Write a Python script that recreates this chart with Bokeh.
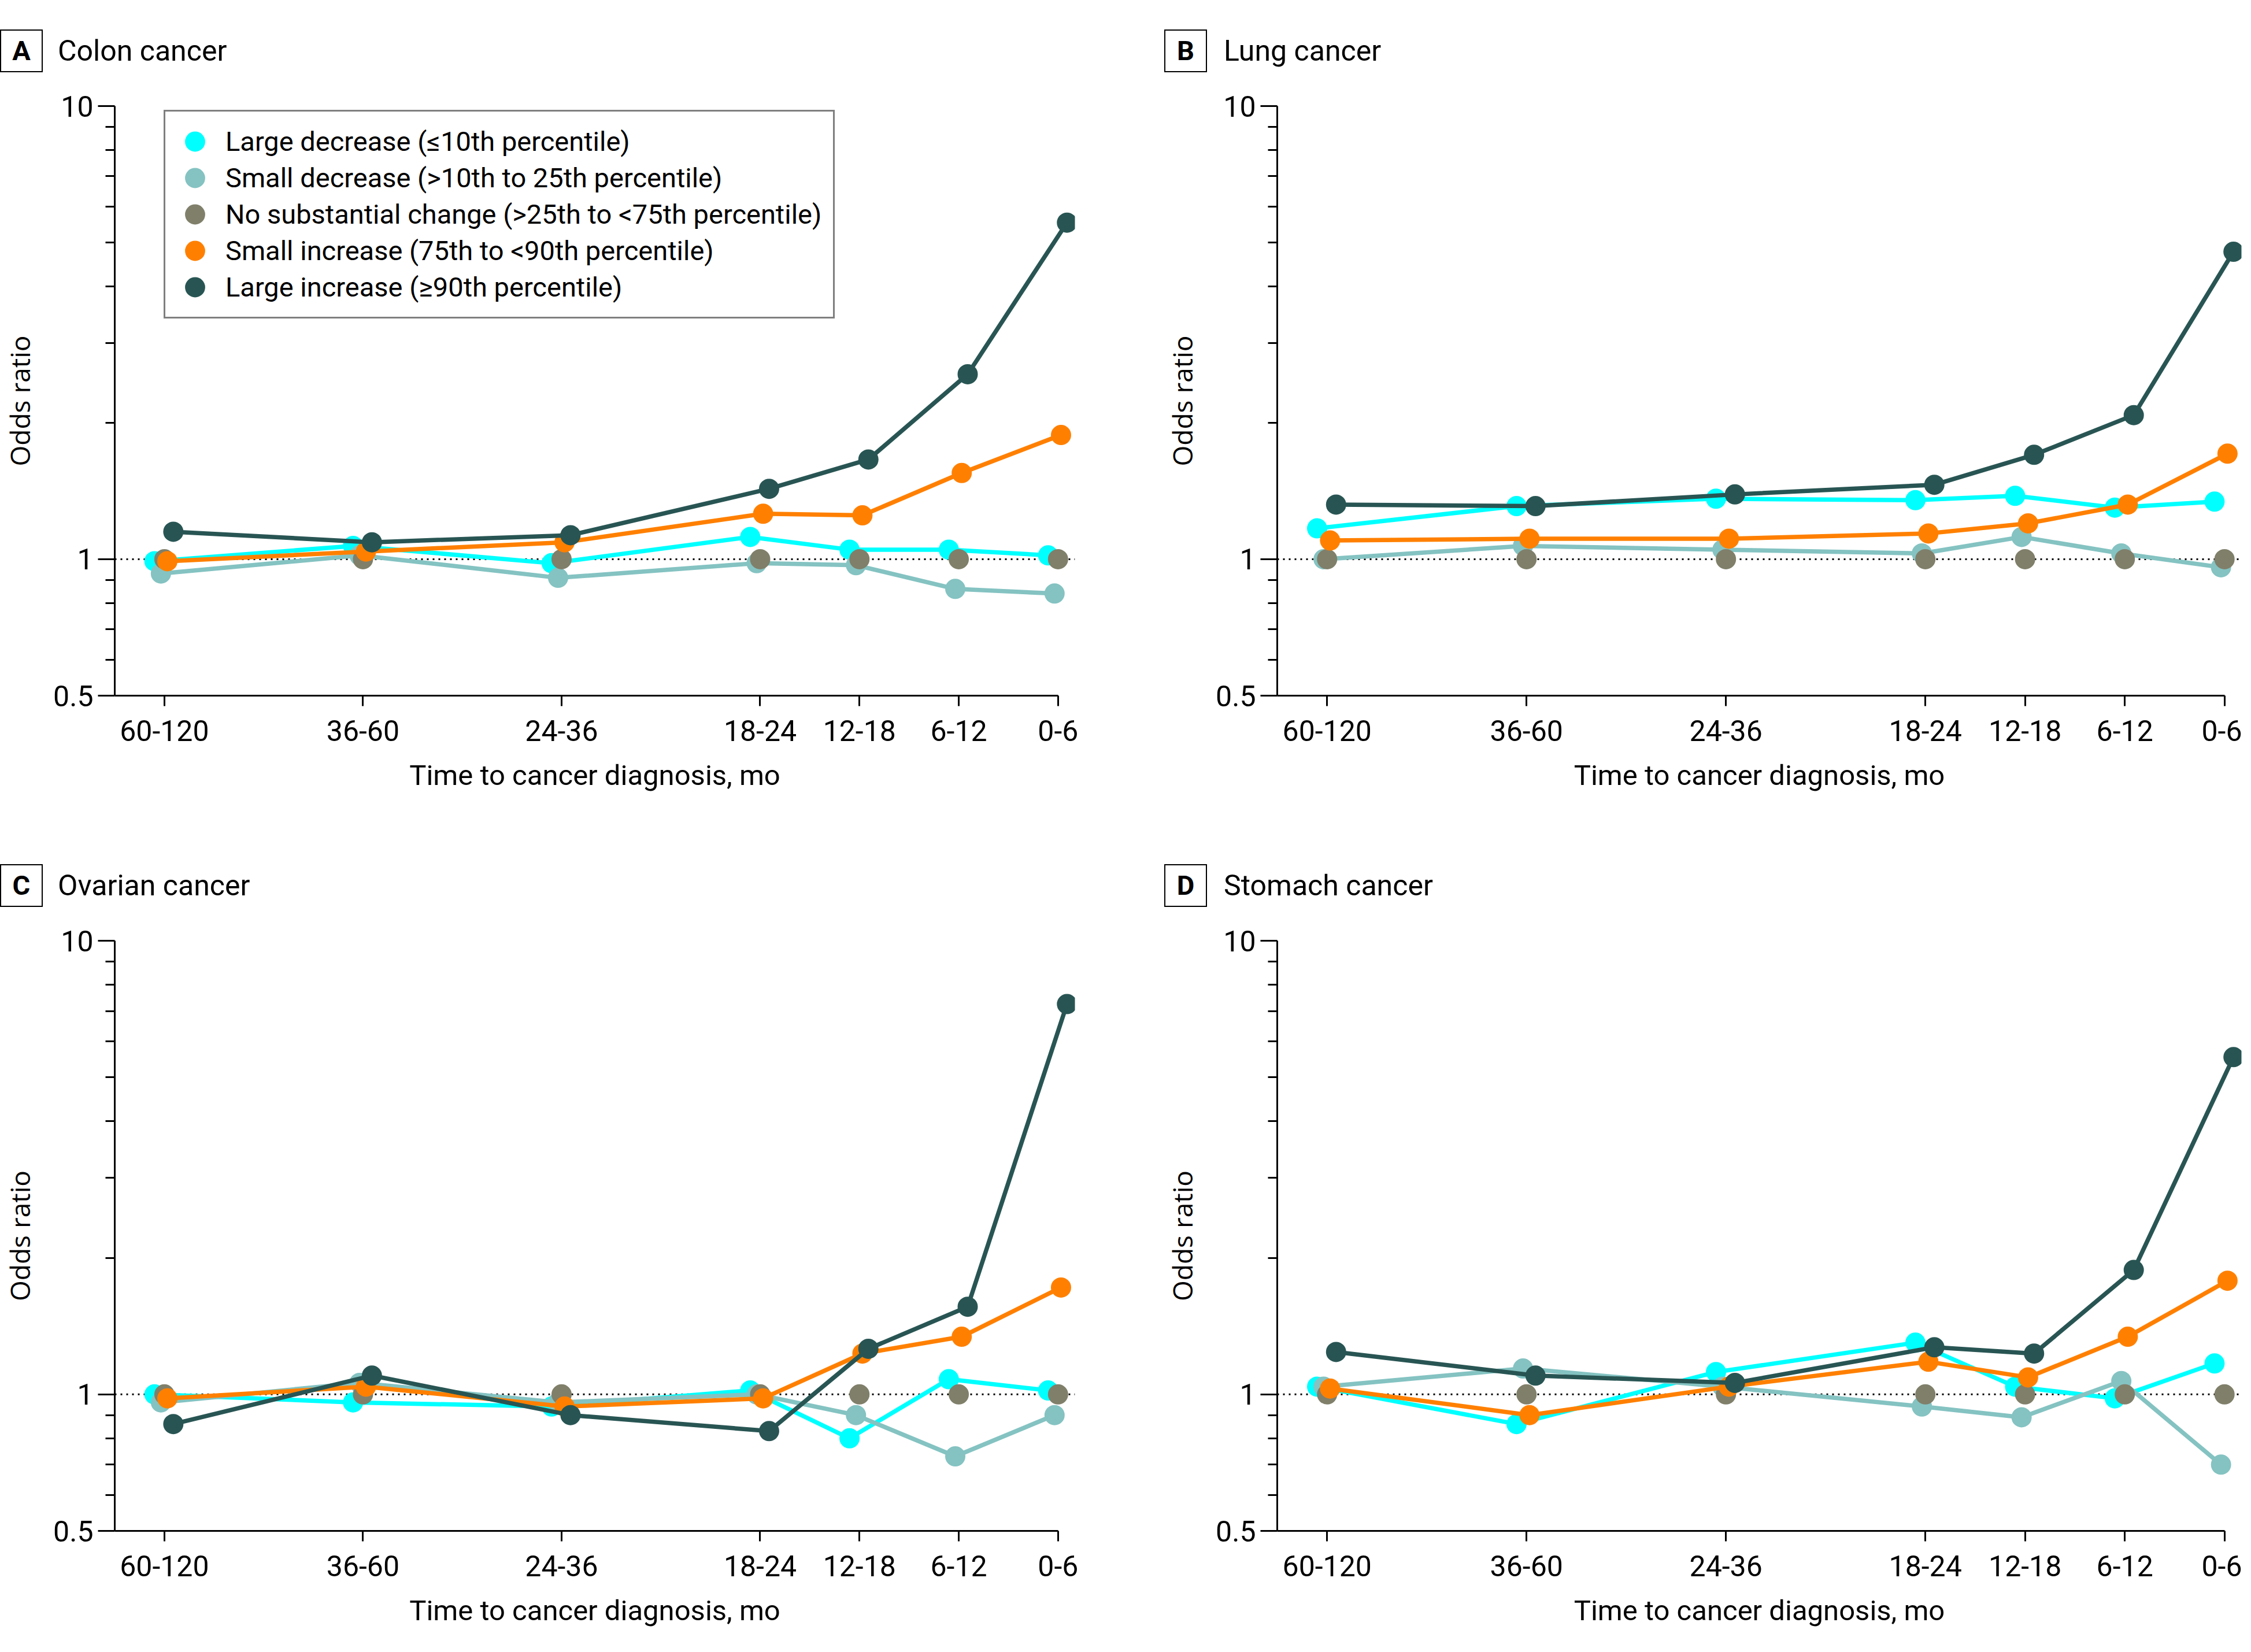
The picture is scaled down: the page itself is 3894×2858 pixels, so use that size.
from bokeh.plotting import figure
from bokeh.models import FixedTicker, Range1d, Span, Legend, LegendItem, ColumnDataSource, Div
from bokeh.layouts import row, column
from bokeh.transform import dodge
from bokeh.embed import file_html
from bokeh.resources import INLINE

# ---------------- data ----------------
categories = ["60-120", "36-60", "24-36", "18-24", "12-18", "6-12", "0-6"]
x_pos = [0, 2, 4, 6, 7, 8, 9]

series_names = [
    "Large decrease (\u226410th percentile)",
    "Small decrease (>10th to 25th percentile)",
    "No substantial change (>25th to <75th percentile)",
    "Small increase (75th to <90th percentile)",
    "Large increase (\u226590th percentile)",
]
series_colors = ["#00FFFF", "#84C3C2", "#807F6A", "#FF8000", "#285553"]

colon_large_dec = [0.99, 1.07, 0.98, 1.12, 1.05, 1.05, 1.02]
colon_small_dec = [0.93, 1.02, 0.91, 0.98, 0.97, 0.86, 0.84]
colon_no_change = [1.0, 1.0, 1.0, 1.0, 1.0, 1.0, 1.0]
colon_small_inc = [0.99, 1.04, 1.09, 1.26, 1.25, 1.55, 1.88]
colon_large_inc = [1.15, 1.09, 1.13, 1.43, 1.66, 2.56, 5.53]

lung_large_dec = [1.17, 1.31, 1.36, 1.35, 1.38, 1.30, 1.34]
lung_small_dec = [1.00, 1.07, 1.05, 1.03, 1.12, 1.03, 0.96]
lung_no_change = [1.0, 1.0, 1.0, 1.0, 1.0, 1.0, 1.0]
lung_small_inc = [1.10, 1.11, 1.11, 1.14, 1.20, 1.32, 1.71]
lung_large_inc = [1.32, 1.31, 1.39, 1.46, 1.70, 2.08, 4.77]

ovarian_large_dec = [1.00, 0.96, 0.94, 1.02, 0.80, 1.08, 1.02]
ovarian_small_dec = [0.96, 1.06, 0.96, 1.00, 0.90, 0.73, 0.90]
ovarian_no_change = [1.0, 1.0, 1.0, 1.0, 1.0, 1.0, 1.0]
ovarian_small_inc = [0.98, 1.04, 0.94, 0.98, 1.23, 1.34, 1.72]
ovarian_large_inc = [0.86, 1.10, 0.90, 0.83, 1.26, 1.56, 7.25]

stomach_large_dec = [1.04, 0.86, 1.12, 1.30, 1.04, 0.98, 1.17]
stomach_small_dec = [1.04, 1.14, 1.04, 0.94, 0.89, 1.07, 0.70]
stomach_no_change = [1.0, 1.0, 1.0, 1.0, 1.0, 1.0, 1.0]
stomach_small_inc = [1.03, 0.90, 1.04, 1.18, 1.09, 1.34, 1.78]
stomach_large_inc = [1.24, 1.10, 1.06, 1.27, 1.23, 1.88, 5.54]

y_major = [0.5, 1, 10]
y_minor = [0.6, 0.7, 0.8, 0.9, 2, 3, 4, 5, 6, 7, 8, 9]

# ---------------- styling ----------------
COND = "Roboto"
offsets = [-0.1, -0.035, 0.0, 0.03, 0.09]
has_line = [True, True, False, True, True]


def title_div(letter, name, width, box_left, text_left):
    html = (
        '<div style="position:relative;width:%dpx;height:130px;">'
        '<div style="position:absolute;left:%dpx;top:51px;width:74px;height:74px;'
        'border:2px solid #000;box-sizing:border-box;font-family:Roboto;font-weight:bold;'
        'font-size:47px;line-height:70px;text-align:center;color:#000;">%s</div>'
        '<div style="position:absolute;left:%dpx;top:51px;height:74px;line-height:74px;'
        'font-family:Roboto;font-size:50px;white-space:nowrap;color:#000;">%s</div>'
        '</div>' % (width, box_left, letter, text_left, name)
    )
    return Div(text=html, width=width, height=130, margin=0)


def make_panel(series, width, height, mbl, mbr, mbt, mbb, show_legend=False):
    p = figure(width=width, height=height,
               x_range=Range1d(-0.5, 9.17), y_range=Range1d(0.5, 10),
               y_axis_type="log", output_backend="svg", toolbar_location=None,
               min_border_left=mbl, min_border_right=mbr,
               min_border_top=mbt, min_border_bottom=mbb)
    p.outline_line_color = None
    p.grid.visible = False
    p.background_fill_color = "white"
    p.border_fill_color = "white"

    src = ColumnDataSource(dict(x=x_pos, cat=categories,
                                s0=series[0], s1=series[1], s2=series[2],
                                s3=series[3], s4=series[4]))

    ref = Span(location=1, dimension="width", line_color="black",
               line_width=3, line_dash="3 7", level="underlay")
    p.add_layout(ref)

    scatters = []
    for i in range(5):
        xs = dodge("x", offsets[i], range=p.x_range)
        if has_line[i]:
            p.line(x=xs, y="s%d" % i, source=src, line_color=series_colors[i], line_width=7.5)
        r = p.scatter(x=xs, y="s%d" % i, source=src, size=25, marker="circle",
                      fill_color=series_colors[i], line_color=series_colors[i], line_width=10)
        scatters.append(r)

    # x axis
    xa = p.xaxis[0]
    xa.ticker = FixedTicker(ticks=x_pos)
    xa.major_label_overrides = {xv: c for xv, c in zip(x_pos, categories)}
    xa.bounds = (-0.5, 9)
    xa.axis_line_width = 3
    xa.major_tick_line_width = 3
    xa.major_tick_in = 0
    xa.major_tick_out = 18
    xa.minor_tick_line_color = None
    xa.major_label_text_font = COND
    xa.major_label_text_font_size = "50px"
    xa.major_label_text_color = "black"
    xa.major_label_standoff = 24
    xa.axis_label = "Time to cancer diagnosis, mo"
    xa.axis_label_text_font = COND
    xa.axis_label_text_font_size = "49px"
    xa.axis_label_text_font_style = "normal"
    xa.axis_label_text_color = "black"
    xa.axis_label_standoff = 28

    # y axis
    ya = p.yaxis[0]
    ya.ticker = FixedTicker(ticks=y_major, minor_ticks=y_minor)
    ya.major_label_overrides = {0.5: "0.5", 1: "1", 10: "10"}
    ya.axis_line_width = 3
    ya.major_tick_line_width = 3
    ya.minor_tick_line_width = 3
    ya.major_tick_in = 0
    ya.major_tick_out = 29
    ya.minor_tick_in = 0
    ya.minor_tick_out = 16
    ya.major_label_text_font = COND
    ya.major_label_text_font_size = "50px"
    ya.major_label_text_color = "black"
    ya.major_label_standoff = 8
    ya.axis_label = "Odds ratio"
    ya.axis_label_text_font = "Open Sans"
    ya.axis_label_text_font_size = "46px"
    ya.axis_label_text_font_style = "normal"
    ya.axis_label_text_color = "black"
    ya.axis_label_standoff = 24

    if show_legend:
        fh = height - mbt - mbb
        items = [LegendItem(label=series_names[i], renderers=[scatters[i]]) for i in range(5)]
        leg = Legend(items=items, location=(85, fh - 368),
                     glyph_width=62, glyph_height=63, spacing=0, padding=20,
                     label_standoff=22, label_text_font=COND, label_text_font_size="47px",
                     label_text_color="black", border_line_color="black",
                     border_line_width=3, background_fill_color="white",
                     background_fill_alpha=1.0, margin=0)
        p.add_layout(leg)
    return p


tA = title_div("A", "Colon cancer", 2010, 0, 100)
tB = title_div("B", "Lung cancer", 1868, 4, 107)
tC = title_div("C", "Ovarian cancer", 2010, 0, 100)
tD = title_div("D", "Stomach cancer", 1868, 4, 107)

pA = make_panel([colon_large_dec, colon_small_dec, colon_no_change, colon_small_inc, colon_large_inc],
                2010, 1314, 191, 151, 53, 241, show_legend=True)
pB = make_panel([lung_large_dec, lung_small_dec, lung_no_change, lung_small_inc, lung_large_inc],
                1868, 1314, 199, 1, 53, 241)
pC = make_panel([ovarian_large_dec, ovarian_small_dec, ovarian_no_change, ovarian_small_inc, ovarian_large_inc],
                2010, 1268, 191, 151, 53, 194)
pD = make_panel([stomach_large_dec, stomach_small_dec, stomach_no_change, stomach_small_inc, stomach_large_inc],
                1868, 1268, 199, 1, 53, 194)

layout = column(row(tA, tB, spacing=0), row(pA, pB, spacing=0),
                row(tC, tD, spacing=0), row(pC, pD, spacing=0), spacing=0)

open("out.html", "w").write(file_html(layout, INLINE))
